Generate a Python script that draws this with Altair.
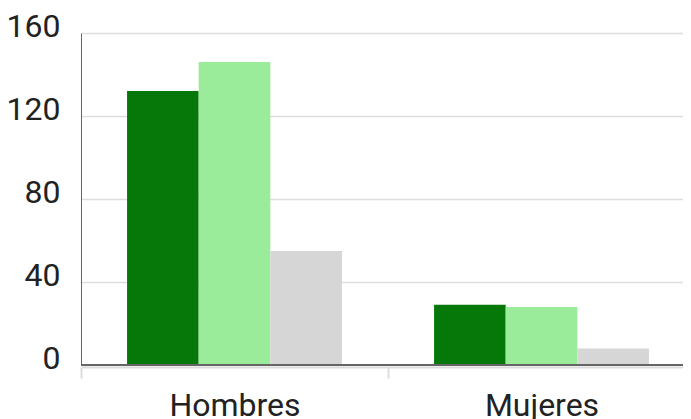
import altair as alt
import pandas as pd

grupos = ["Hombres", "Mujeres"]
series = ["Serie 1", "Serie 2", "Serie 3"]
valores_s1 = [132, 29]
valores_s2 = [146, 28]
valores_s3 = [55, 8]
colores = ["#06780a", "#9aeb9a", "#d6d6d6"]
y_ticks = [0, 40, 80, 120, 160]

rows = []
for i, g in enumerate(grupos):
    for s, vals in zip(series, [valores_s1, valores_s2, valores_s3]):
        rows.append({"grupo": g, "serie": s, "valor": vals[i]})
df = pd.DataFrame(rows)

bars = alt.Chart(df).mark_bar().encode(
    x=alt.X(
        "grupo:N", sort=grupos, title=None,
        scale=alt.Scale(paddingInner=0, paddingOuter=0, range=[0, 614]),
        axis=alt.Axis(
            labelAngle=0, labelFontSize=32, labelFont="Roboto", labelColor="#222",
            labelPadding=12, tickSize=11, tickColor="#dddddd", tickWidth=2,
            domainColor="#dddddd", domainWidth=2, offset=2, grid=False,
            tickBand="extent",
        ),
    ),
    xOffset=alt.XOffset("serie:N", sort=series,
                        scale=alt.Scale(paddingInner=0, paddingOuter=0.643)),
    y=alt.Y(
        "valor:Q", title=None,
        scale=alt.Scale(domain=[0, 160], nice=False),
        axis=alt.Axis(
            values=y_ticks, labelFontSize=32, labelFont="Roboto", labelColor="#222",
            labelPadding=21, ticks=False, labelBaseline="alphabetic", labelOffset=3,
            domainColor="#666666", domainWidth=1, grid=True,
            gridColor="#dddddd", gridWidth=1.5,
        ),
    ),
    color=alt.Color("serie:N", scale=alt.Scale(domain=series, range=colores), legend=None),
)

cero = alt.Chart(pd.DataFrame({"base": [0]})).mark_rule(color="#666666", strokeWidth=2).encode(
    y="base:Q"
)

chart = alt.layer(bars, cero).properties(
    width=602, height=332,
    autosize=alt.AutoSizeParams(type="none"),
    padding={"left": 73, "top": 25, "right": 0, "bottom": 56},
).configure_view(stroke=None)

chart.save("out.html", embed_options={"renderer": "svg", "actions": False})
